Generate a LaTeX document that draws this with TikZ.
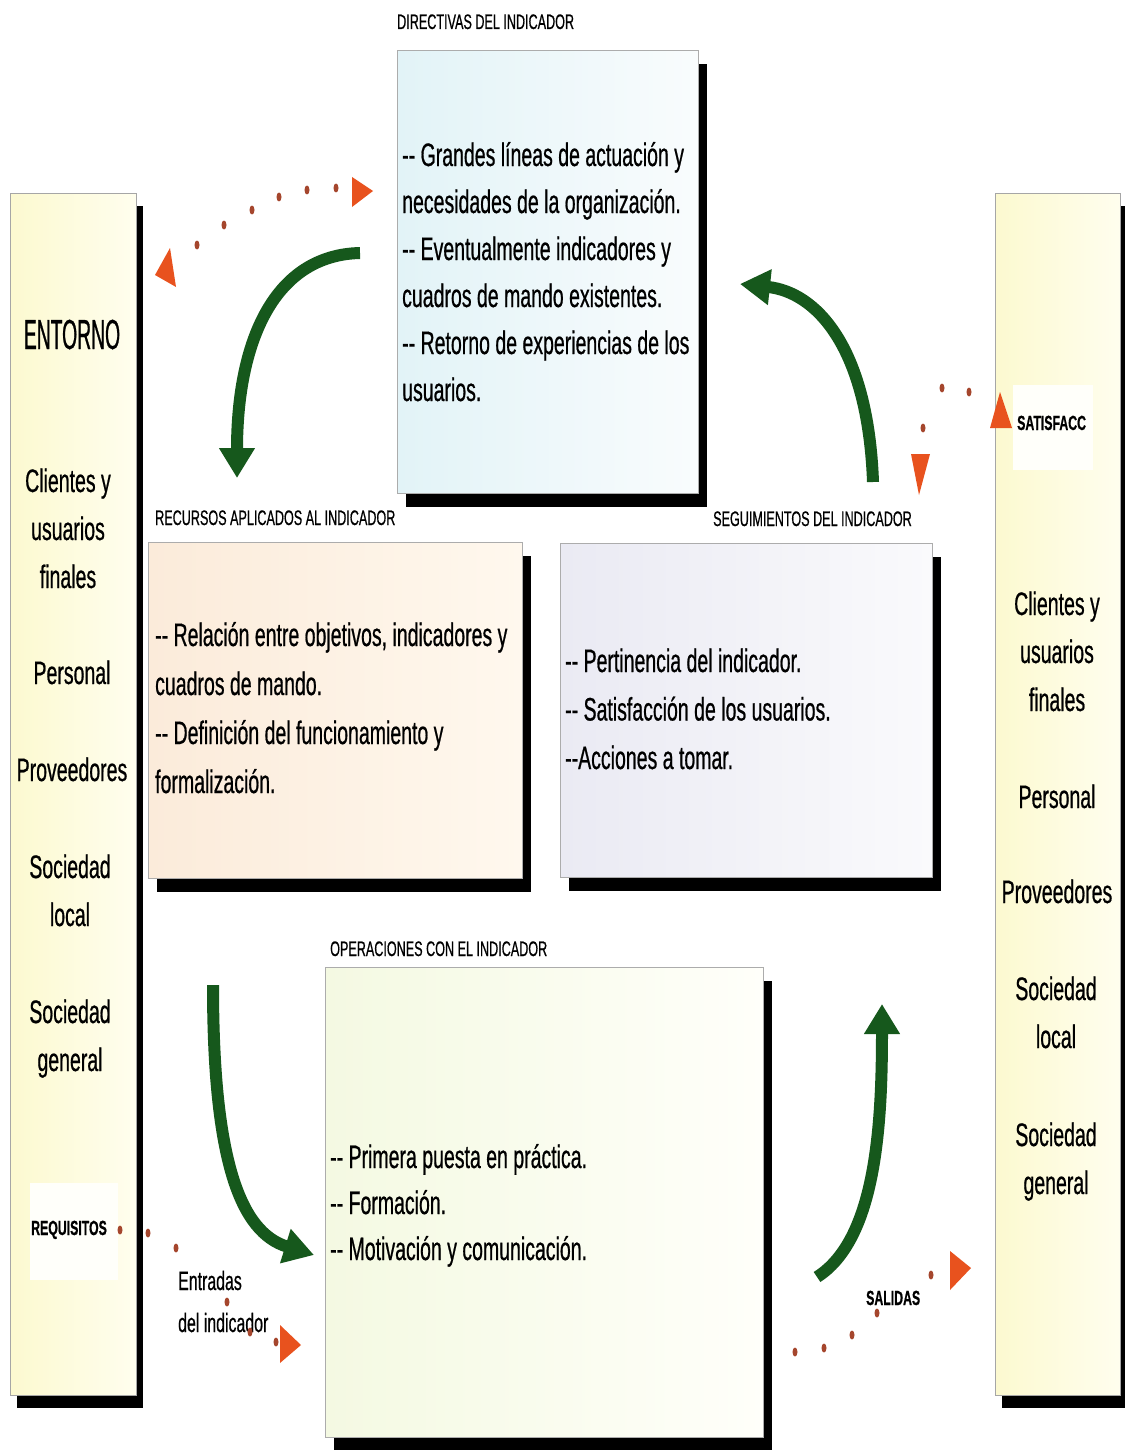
\documentclass[tikz,border=0pt]{standalone}
\usepackage{fontspec}
\setmainfont{Liberation Sans}[FakeStretch=0.6,FakeBold=0.6]
\newfontfamily\entfont{Liberation Sans}[FakeStretch=0.46,FakeBold=0.6]
\usetikzlibrary{arrows.meta,shadows}
\newcommand\dashdash{\mbox{-}\mbox{-}}
\definecolor{grn}{RGB}{22,88,28}
\definecolor{org}{RGB}{232,82,30}
\definecolor{dotc}{RGB}{165,70,45}
\definecolor{pnlL}{RGB}{252,249,208}
\definecolor{pnlR}{RGB}{255,254,238}
\definecolor{dirL}{RGB}{226,243,247}
\definecolor{dirR}{RGB}{249,252,253}
\definecolor{recL}{RGB}{251,235,218}
\definecolor{recR}{RGB}{255,248,238}
\definecolor{segL}{RGB}{234,234,243}
\definecolor{segR}{RGB}{250,250,252}
\definecolor{opeL}{RGB}{244,249,226}
\definecolor{opeR}{RGB}{255,255,250}
\tikzset{
  panel/.style={draw=gray!70, line width=1pt, anchor=north west, inner sep=0pt,
    left color=pnlL, right color=pnlR,
    general shadow={fill=black, shadow xshift=6pt, shadow yshift=-12pt}},
  box/.style={draw=gray!65, line width=1.2pt, anchor=north west, inner sep=0pt,
    general shadow={fill=black, shadow xshift=8pt, shadow yshift=-13pt}},
  boxtxt/.style={anchor=base west, inner sep=0pt, align=left, font=\fontsize{32.5}{47}\selectfont},
  ptxt/.style={anchor=base, inner sep=0pt, align=center, font=\fontsize{32.5}{48}\selectfont},
  ttl/.style={anchor=base west, inner sep=0pt, font=\fontsize{21}{24}\selectfont},
  sml/.style={anchor=base west, inner sep=0pt, font=\bfseries\fontsize{20.5}{24}\selectfont},
  garrow/.style={draw=grn, line width=12pt, -{Triangle[length=30pt,width=34pt]}},
  dotm/.style={fill=dotc},
  ohead/.style={fill=org},
}
\begin{document}
\begin{tikzpicture}[x=1pt,y=-1pt]
\useasboundingbox (0,0) rectangle (1124,1450);
\fill[white] (0,0) rectangle (1124,1450);

% side panels
\node[panel, minimum width=126pt, minimum height=1202pt] (left) at (10,193) {};
\node[panel, minimum width=125pt, minimum height=1202pt] (right) at (995,193) {};
\fill[white!70!pnlR] (30,1183) rectangle (118,1280);
\fill[white!70!pnlR] (1013,385) rectangle (1093,470);

% boxes
\node[box, left color=dirL, right color=dirR, minimum width=301pt, minimum height=443pt] (dir) at (397,50) {};
\node[box, left color=recL, right color=recR, minimum width=374pt, minimum height=336pt] (rec) at (148,542) {};
\node[box, left color=segL, right color=segR, minimum width=372pt, minimum height=334pt] (seg) at (560,543) {};
\node[box, left color=opeL, right color=opeR, minimum width=438pt, minimum height=470pt] (ope) at (325,967) {};

% titles
\node[ttl] (dirt) at (397,29) {DIRECTIVAS DEL INDICADOR};
\node[ttl] (rect) at (155,525) {RECURSOS APLICADOS AL INDICADOR};
\node[ttl] (segt) at (713,526) {SEGUIMIENTOS DEL INDICADOR};
\node[ttl] (opet) at (330,956) {OPERACIONES CON EL INDICADOR};

% box texts (base anchor = baseline of the last line)
\node[boxtxt] (dirx) at (402,401) {\dashdash\ Grandes líneas de actuación y\\necesidades de la organización.\\\dashdash\ Eventualmente indicadores y\\cuadros de mando existentes.\\\dashdash\ Retorno de experiencias de los\\usuarios.};
\node[boxtxt, font=\fontsize{32.5}{49}\selectfont] (recx) at (155,793) {\dashdash\ Relación entre objetivos, indicadores y\\cuadros de mando.\\\dashdash\ Definición del funcionamiento y\\formalización.};
\node[boxtxt, font=\fontsize{32.5}{48.5}\selectfont] (segx) at (565,769) {\dashdash\ Pertinencia del indicador.\\\dashdash\ Satisfacción de los usuarios.\\\dashdash Acciones a tomar.};
\node[boxtxt, font=\fontsize{32.5}{46}\selectfont] (opex) at (330,1260) {\dashdash\ Primera puesta en práctica.\\\dashdash\ Formación.\\\dashdash\ Motivación y comunicación.};

% left panel texts
\node[anchor=base, inner sep=0pt, font=\entfont\fontsize{42}{48}\selectfont] (ent) at (72,349) {ENTORNO};
\node[ptxt] (l1) at (68,588) {Clientes y\\usuarios\\finales};
\node[ptxt] (l2) at (72,684) {Personal};
\node[ptxt] (l3) at (72,781) {Proveedores};
\node[ptxt] (l4) at (70,926) {Sociedad\\local};
\node[ptxt] (l5) at (70,1071) {Sociedad\\general};
\node[sml] (req) at (31,1235) {REQUISITOS};

% right panel texts
\node[ptxt] (r1) at (1057,711) {Clientes y\\usuarios\\finales};
\node[ptxt] (r2) at (1057,808) {Personal};
\node[ptxt] (r3) at (1057,903) {Proveedores};
\node[ptxt] (r4) at (1056,1048) {Sociedad\\local};
\node[ptxt] (r5) at (1056,1194) {Sociedad\\general};
\node[sml] (sat) at (1017,430) {SATISFACC};

% flow labels
\node[anchor=base west, inner sep=0pt, align=left, font=\fontsize{26.5}{42}\selectfont] (ent2) at (178,1332) {Entradas\\del indicador};
\node[sml] (sal) at (866,1305) {SALIDAS};

% green arrows
\coordinate (g1s) at (360,253); \coordinate (g1e) at (237,478);
\draw[garrow] (g1s) .. controls (275,255) and (237,340) .. (g1e);
\coordinate (g2s) at (873,482); \coordinate (g2e) at (740,284);
\draw[garrow] (g2s) .. controls (868,345) and (815,292) .. (g2e);
\coordinate (g3s) at (213,985); \coordinate (g3e) at (314,1255);
\draw[garrow] (g3s) .. controls (213,1160) and (240,1232) .. (g3e);
\coordinate (g4s) at (817,1277); \coordinate (g4e) at (882,1004);
\draw[garrow] (g4s) .. controls (875,1240) and (882,1130) .. (g4e);

% orange dotted arrows: top left
\foreach \p in {(197,245),(224,225),(252,210),(279,197),(307,190),(336,188)}
  \fill[dotm] \p ellipse [x radius=2.5pt, y radius=4.5pt];
\fill[ohead] (352,177) -- (352,207) -- (373,191) -- cycle;
\fill[ohead] (155,275) -- (170,248) -- (176,287) -- cycle;

% satisfaccion
\foreach \p in {(923,428),(942,388),(969,392)}
  \fill[dotm] \p ellipse [x radius=2.5pt, y radius=4.5pt];
\fill[ohead] (990,428) -- (1012,428) -- (1000,392) -- cycle;
\fill[ohead] (911,454) -- (930,454) -- (919,495) -- cycle;

% entradas
\foreach \p in {(120,1230),(148,1233),(176,1248),(227,1302),(250,1332),(276,1342)}
  \fill[dotm] \p ellipse [x radius=2.5pt, y radius=4.5pt];
\fill[ohead] (280,1325) -- (280,1363) -- (301,1345) -- cycle;

% salidas
\foreach \p in {(795,1352),(824,1348),(852,1335),(877,1313),(931,1275)}
  \fill[dotm] \p ellipse [x radius=2.5pt, y radius=4.5pt];
\fill[ohead] (950,1251) -- (950,1290) -- (971,1268) -- cycle;
\end{tikzpicture}
\end{document}
